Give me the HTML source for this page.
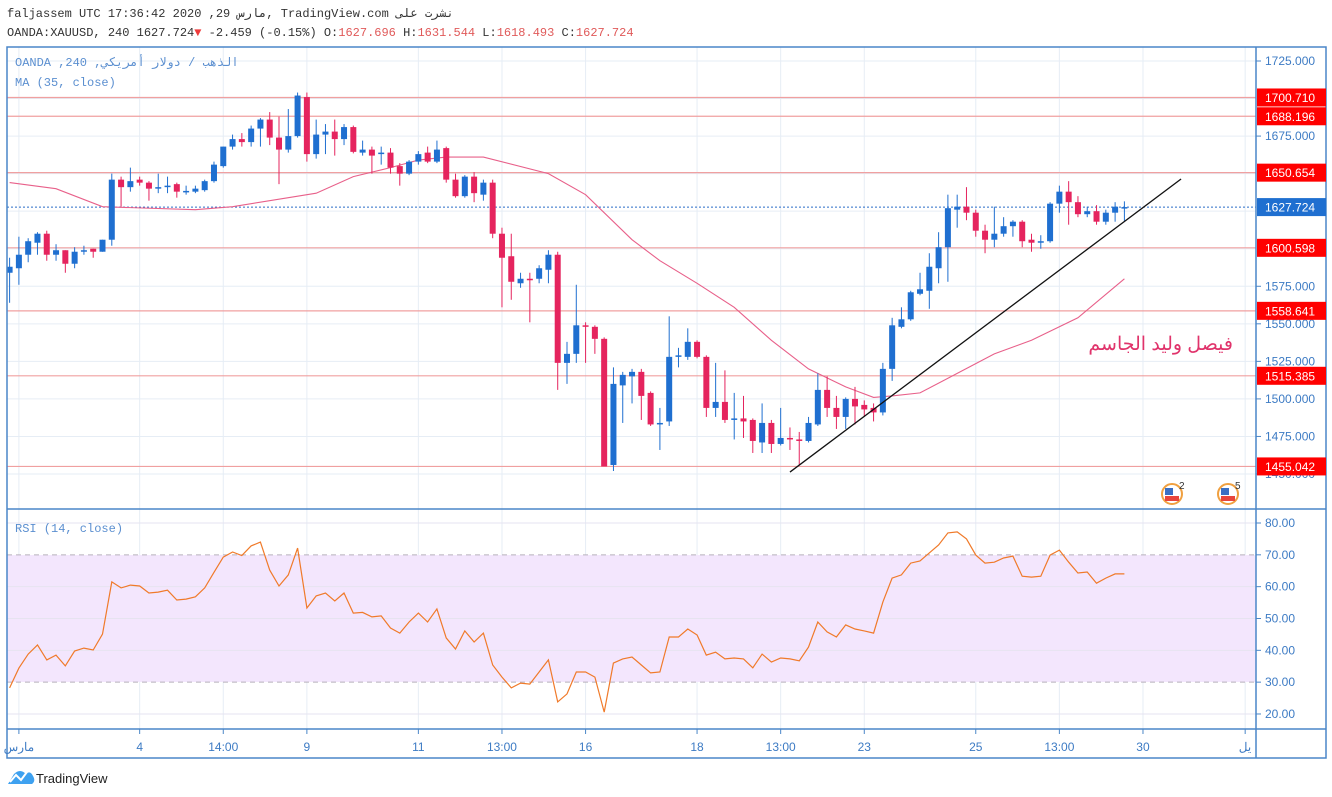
<!DOCTYPE html>
<html><head><meta charset="utf-8">
<style>
html,body{margin:0;padding:0;background:#fff;width:1332px;height:797px;overflow:hidden}
svg{display:block}
.mono{font-family:"Liberation Mono","Noto Sans CJK SC",monospace;font-size:12px}
.ax{font-family:"Liberation Sans",sans-serif;font-size:12px;fill:#3d7bc4}
</style></head>
<body>
<svg id="chart" width="1332" height="797" xmlns="http://www.w3.org/2000/svg">
  <text class="mono" x="7" y="17" fill="#333">faljassem UTC 17:36:42 2020 ,29 مارس, TradingView.com نشرت على</text>
  <text class="mono" x="7" y="36" fill="#333">OANDA:XAUUSD, 240 1627.724<tspan fill="#ef3b3b">▼</tspan> -2.459 (-0.15%) O:<tspan fill="#e05a5a">1627.696</tspan> H:<tspan fill="#e05a5a">1631.544</tspan> L:<tspan fill="#e05a5a">1618.493</tspan> C:<tspan fill="#e05a5a">1627.724</tspan></text>
  <rect x="7" y="47" width="1246" height="240" fill="none"/>
  <rect x="1256" y="510" width="70" height="220" fill="#f3e6fd" opacity="0"/>
  <g id="grid"></g>
  <rect x="7" y="555" width="1249" height="127" fill="#f3e6fd"/>
  <g id="rsiGrid"></g>
  <g id="hlines"></g>
  <g id="ma"></g>
  <g id="candles"></g>
  <g id="trend"></g>
  <g id="rsi"></g>
  <text x="1233" y="350" text-anchor="end" fill="#e0336b" font-size="19" font-family="'Liberation Sans','Noto Sans CJK SC',sans-serif">فيصل وليد الجاسم</text>
  <text class="mono" x="15" y="66" fill="#5b8fd0">OANDA ,240 ,الذهب / دولار أمريكي</text>
  <text class="mono" x="15" y="86" fill="#5b8fd0">MA (35, close)</text>
  <text class="mono" x="15" y="532" fill="#5b8fd0">RSI (14, close)</text>
  <g>
    <circle cx="1172" cy="494" r="10" fill="#fff" stroke="#f0a040" stroke-width="2"/>
    <rect x="1165" y="496" width="14" height="5" fill="#e8453c"/>
    <rect x="1165" y="488" width="8" height="7" fill="#3a6fc4"/>
    <text x="1179" y="489" font-size="10" font-family="'Liberation Sans',sans-serif" fill="#333">2</text>
  </g>
  <g>
    <circle cx="1228" cy="494" r="10" fill="#fff" stroke="#f0a040" stroke-width="2"/>
    <rect x="1221" y="496" width="14" height="5" fill="#e8453c"/>
    <rect x="1221" y="488" width="8" height="7" fill="#3a6fc4"/>
    <text x="1235" y="489" font-size="10" font-family="'Liberation Sans',sans-serif" fill="#333">5</text>
  </g>
  <g id="borders" fill="none" stroke="#4a86c8" stroke-width="1.5">
    <rect x="7" y="47" width="1319" height="711"/>
    <line x1="7" y1="509" x2="1326" y2="509"/>
    <line x1="7" y1="729" x2="1326" y2="729"/>
    <line x1="1256" y1="47" x2="1256" y2="758"/>
  </g>
  <g id="axes"></g>
  <g>
    <path d="M8 784 L14 774 Q20 768 26 774 Q30 770 33 776 Q36 781 32 784 Z" fill="#3ea1f0"/>
    <polyline points="10,782 16,775 21,780 27,772" fill="none" stroke="#fff" stroke-width="2"/>
    <text x="36" y="783" font-family="'Liberation Sans',sans-serif" font-size="13" fill="#222">TradingView</text>
  </g>
</svg>
<script>
const opens=[1584,1587,1596,1604,1610,1596,1599,1590,1598,1600,1598,1606,1646,1641,1646,1644,1640,1641,1643,1637.8,1638,1639,1645,1655,1668,1673,1671,1680,1686,1674,1666,1675,1701,1663,1676,1678,1673,1681,1664,1666,1663,1664,1655,1650,1658,1664,1658,1667,1646,1635,1648,1636,1644,1610,1595,1577,1580,1580,1586,1596,1524,1530,1549,1548,1540,1456,1509,1515,1518,1504,1483,1485,1528,1528,1538,1528,1494,1498,1486,1487,1486,1471,1484,1470,1474,1473,1472,1483,1506,1494,1488,1500,1496,1494,1491,1520,1548,1553,1570,1572,1587,1601,1626,1628,1624,1612,1606,1610,1615,1618,1606,1604,1605,1630,1638,1631,1623,1625,1618,1624,1627.696];
const highs=[1594,1608,1607,1611,1612,1603,1599,1601,1602,1600,1606,1650,1648,1654,1648,1645,1650,1648,1644,1642,1642,1646,1658,1668,1676,1677,1682,1687,1691,1688,1693,1704,1704,1686,1683,1686,1683,1682,1672,1668,1668,1667,1657,1659,1665,1668,1672,1668,1650,1649,1651,1646,1646,1614,1610,1584,1584,1589,1599,1598,1538,1576,1551,1549,1541,1521,1518,1520,1520,1505,1494,1555,1534,1547,1539,1529,1524,1519,1504,1502,1487,1497,1486,1494,1481,1478,1488,1517,1515,1502,1501,1508,1499,1497,1524,1554,1561,1572,1584,1597,1611,1636,1636,1641,1626,1616,1628,1621,1619,1619,1610,1609,1631,1642,1645,1635,1628,1629,1626,1631,1631.544];
const lows=[1564,1576,1591,1596,1592,1592,1584,1587,1596,1594,1598,1602,1628,1638,1642,1632,1637,1637,1634,1636,1637,1638,1644,1654,1666,1668,1668,1668,1669,1643,1664,1674,1658,1660,1663,1662,1669,1663.5,1662,1650,1656,1650,1642,1649,1656,1657,1657,1644,1634,1634,1631,1632,1607,1561,1566,1574,1551,1577,1577,1506,1510,1524,1524,1530,1455,1452,1484,1497,1486,1482,1466,1482,1521,1526,1527,1488,1488,1484,1473,1474,1464,1464,1464,1469,1466,1456,1471,1482,1488,1480,1480,1483,1488,1485,1489,1512,1547,1552,1569,1560,1577,1578,1614,1619,1608,1597,1601,1608,1608,1601,1598,1600,1604,1624,1616,1621,1621,1616,1616,1618,1618.493];
const closes=[1588,1596,1605,1610,1596,1599,1590,1598,1599,1598,1606,1646,1641,1645,1644,1640,1641,1642,1638,1638.5,1640,1645,1656,1668,1673,1671,1680,1686,1674,1666,1675,1702,1663,1676,1678,1673,1681,1664.5,1666,1662,1664,1654,1650,1658,1663,1658,1666,1646,1635,1648,1637,1644,1610,1594,1578,1580,1579,1587,1596,1524,1530,1549,1548,1540,1455,1510,1516,1518,1502,1483,1484,1528,1529,1538,1528,1494,1498,1486,1487,1485,1472,1484,1470,1474,1473,1472,1484,1506,1494,1488,1500,1495,1493,1491,1520,1549,1553,1571,1573,1588,1601,1627,1628,1624,1612,1606,1610,1615,1618,1605,1604,1605,1630,1638,1631,1623,1625,1618,1624,1628,1627.724];
const maIdx=[0,5,10,20,24,30,33,37,41,44,47,51,58,62,67,70,74,78,82,86,90,93,95,98,102,106,110,115,120];
const maVals=[1644,1640,1628,1626,1628,1634,1637,1648,1654,1659,1661,1661,1650,1636,1606,1592,1577,1561,1539,1520,1508,1501,1502,1504,1517,1530,1539,1554,1580];
const rsiVals=[28.2,34.4,38.8,41.7,37.0,38.5,35.1,39.8,40.7,40.1,45.1,61.5,59.6,60.5,60.2,58.0,58.3,58.9,55.8,56.1,56.8,59.6,64.5,69.3,70.9,69.8,72.8,74.0,65.2,60.2,63.7,72.1,53.3,57.1,58.0,55.5,58.0,51.7,51.9,50.5,50.8,47.0,45.4,48.9,51.7,48.9,53.0,43.9,40.4,46.1,42.6,45.4,35.4,31.6,28.2,29.7,29.4,33.2,37.0,23.8,26.3,33.2,33.2,31.6,20.6,36.0,37.3,37.9,35.4,32.9,33.2,44.2,44.2,46.7,44.8,38.5,39.4,37.3,37.6,37.3,34.5,38.8,36.3,37.6,37.3,36.7,41.0,48.9,45.8,44.2,48.0,46.7,46.1,45.4,55.2,62.7,63.7,67.4,68.1,70.6,73.1,76.9,77.2,75.0,69.9,67.4,67.7,69.0,69.6,63.3,63.0,63.3,69.9,71.5,67.7,64.3,64.6,61.1,62.7,64.0,64.0];
const levelVals=[1700.710,1688.196,1650.654,1600.598,1558.641,1515.385,1455.042];
const lastPrice=1627.724;
const priceTicks=[1725,1700,1675,1650,1625,1600,1575,1550,1525,1500,1475,1450];
const priceTickLabels=["1725.000","","1675.000","","","","1575.000","1550.000","1525.000","1500.000","1475.000","1450.000"];
const rsiTicks=[80,70,60,50,40,30,20];
const timeLabels=["مارس","4","14:00","9","11","13:00","16","18","13:00","23","25","13:00","30","يل"];
const timeIdx=[1,14,23,32,44,53,62,74,83,92,104,113,122,133];
const trendIdx=[84,126.1];
const trendVals=[1451.3,1646.4];

const NS="http://www.w3.org/2000/svg";
const xS=i=>9.6+i*9.29;
const yP=p=>61+(1725-p)*1.5018;
const yR=v=>523+(80-v)*3.183;
function mk(tag,attrs,parent){const e=document.createElementNS(NS,tag);for(const k in attrs)e.setAttribute(k,attrs[k]);parent.appendChild(e);return e;}
const g=id=>document.getElementById(id);

// grid
priceTicks.forEach(p=>{const l=mk('line',{x1:7,x2:1256,y1:yP(p),y2:yP(p),stroke:'#e6edf5','stroke-width':1},g('grid'));

});
timeIdx.forEach(i=>{if(xS(i)>1250)return;const l=mk('line',{x1:xS(i),x2:xS(i),y1:47,y2:729,stroke:'#e6edf5','stroke-width':1},g('grid'));

});
rsiTicks.forEach(v=>{const dashed=(v===70||v===30);const l=mk('line',{x1:7,x2:1256,y1:yR(v),y2:yR(v),stroke:dashed?'#b8b0bc':'#e6e3f0','stroke-width':1,'stroke-dasharray':dashed?'5,4':'none'},g('rsiGrid'));

});

// levels
levelVals.forEach(p=>{const l=mk('line',{x1:7,x2:1256,y1:yP(p),y2:yP(p),stroke:'#f0a0a0','stroke-width':1.2},g('hlines'));

});
const lp=mk('line',{x1:7,x2:1256,y1:yP(lastPrice),y2:yP(lastPrice),stroke:'#2a6cc8','stroke-width':1,'stroke-dasharray':'2,2'},g('hlines'));



// MA
const maPts=maIdx.map((i,k)=>xS(i).toFixed(1)+','+yP(maVals[k]).toFixed(1)).join(' ');
const ma=mk('polyline',{points:maPts,fill:'none',stroke:'#e8608a','stroke-width':1.1},g('ma'));



// candles
opens.forEach((o,i)=>{const c=closes[i],h=highs[i],l=lows[i];const up=c>=o;const col=up?'#1f6fd0':'#e5245e';
const grp=mk('g',{},g('candles'));


const x=xS(i);
mk('line',{x1:x,x2:x,y1:yP(h),y2:yP(l),stroke:col,'stroke-width':1},grp);
const top=yP(Math.max(o,c)),bot=yP(Math.min(o,c));
mk('rect',{x:x-3,y:top,width:6,height:Math.max(1.5,bot-top),fill:col},grp);});

// trend line
const tl=mk('line',{x1:xS(trendIdx[0]),y1:yP(trendVals[0]),x2:xS(trendIdx[1]),y2:yP(trendVals[1]),stroke:'#111','stroke-width':1.3},g('trend'));



// RSI
const rp=rsiVals.map((v,i)=>xS(i).toFixed(1)+','+yR(v).toFixed(1)).join(' ');
const rl=mk('polyline',{points:rp,fill:'none',stroke:'#f07a2a','stroke-width':1.2},g('rsi'));



// axes
const ax=g('axes');
priceTicks.forEach((p,k)=>{if(!priceTickLabels[k])return;
mk('line',{x1:1256,x2:1261,y1:yP(p),y2:yP(p),stroke:'#4a86c8'},ax);
const t=mk('text',{x:1265,y:yP(p)+4,class:'ax'},ax);t.textContent=priceTickLabels[k];

});
levelVals.forEach(p=>{const y=yP(p);
mk('rect',{x:1257,y:y-9,width:69,height:18,fill:'#ff0000'},ax);
const t=mk('text',{x:1265,y:y+4.5,fill:'#fff','font-size':12,'font-family':'Liberation Sans, sans-serif'},ax);t.textContent=p.toFixed(3);

});
{const y=yP(lastPrice);mk('rect',{x:1257,y:y-9,width:69,height:18,fill:'#1f6fd0'},ax);
const t=mk('text',{x:1265,y:y+4.5,fill:'#fff','font-size':12,'font-family':'Liberation Sans, sans-serif'},ax);t.textContent=lastPrice.toFixed(3);

}
rsiTicks.forEach(v=>{mk('line',{x1:1256,x2:1261,y1:yR(v),y2:yR(v),stroke:'#4a86c8'},ax);
const t=mk('text',{x:1265,y:yR(v)+4,class:'ax'},ax);t.textContent=v.toFixed(2);

});
timeLabels.forEach((s,k)=>{const x=xS(timeIdx[k]);if(x<1250)mk('line',{x1:x,x2:x,y1:729,y2:734,stroke:'#4a86c8'},ax);
const t=mk('text',{x:Math.min(x,1245),y:751,class:'ax','text-anchor':'middle'},ax);t.textContent=s;

});
</script>
</body></html>
